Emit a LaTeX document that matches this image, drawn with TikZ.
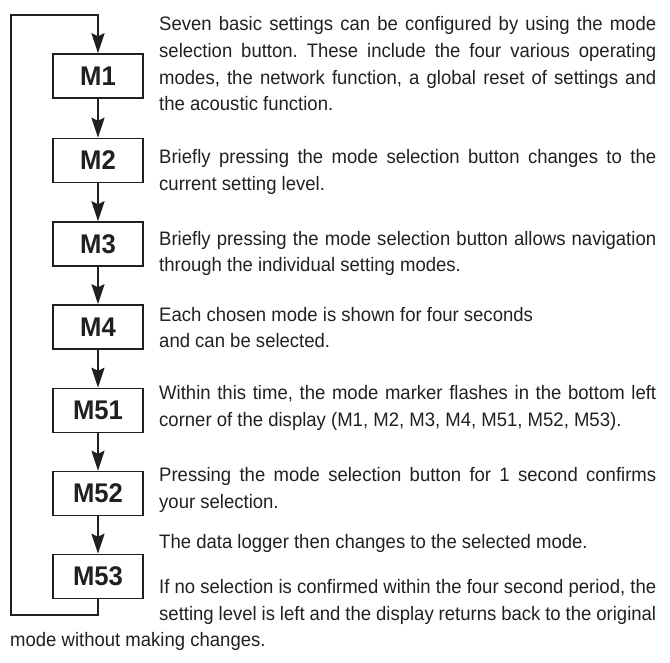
\documentclass[tikz,border=0pt]{standalone}
\usepackage{fontspec}
\setmainfont[FakeStretch=0.95]{Liberation Sans}
\usetikzlibrary{arrows.meta}
\definecolor{ink}{HTML}{231F20}
\tolerance=10000
\hyphenpenalty=10000
\frenchspacing

\begin{document}
\begin{tikzpicture}[x=1pt, y=-1pt]
 \tikzset{
  mode/.style={draw=ink, line width=1.4pt, minimum width=90pt, minimum height=44pt, inner sep=0pt,
               text=ink, font=\fontsize{27}{27}\selectfont\bfseries},
  flow/.style={draw=ink, line width=2.5pt, -{Stealth[length=20pt, width=13pt, inset=3pt]}},
  txt/.style={anchor=base west, inner sep=0pt, text width=497pt, align=justify, text=ink,
              font=\fontsize{19.5}{26.7}\selectfont}
 }
 \useasboundingbox (0,0) rectangle (670,662);

 \foreach \m/\y in {M1/76, M2/160.5, M3/244, M4/327, M51/410.5, M52/493.5, M53/576.5}
  { \node [mode] (\m) at (98,\y) {\m}; }

 \foreach \src/\dst in {M1/M2, M2/M3, M3/M4, M4/M51, M51/M52, M52/M53}
  { \draw [flow] (\src) -- (\dst); }

 % back to the start
 \coordinate (lb) at (11,615);
 \coordinate (lt) at (11,15);
 \draw [flow] (M53.south) -- (M53.south |- lb) -- (lb) -- (lt) -- (lt -| M1.north) -- (M1.north);

 \node [txt] (p1) at (159,30.7) {Seven basic settings can be configured by using the mode\linebreak
  selection button. These include the four various operating\linebreak
  modes, the network function, a global reset of settings and\linebreak
  the acoustic function.};
 \node [txt] (p2) at (159,163.3) {Briefly pressing the mode selection button changes to the\linebreak
  current setting level.};
 \node [txt] (p3) at (159,245) {Briefly pressing the mode selection button allows navigation\linebreak
  through the individual setting modes.};
 \node [txt] (p4) at (159,321) {Each chosen mode is shown for four seconds\newline
  and can be selected.};
 \node [txt] (p5) at (159,399.3) {Within this time, the mode marker flashes in the bottom left\linebreak
  corner of the display (M1, M2, M3, M4, M51, M52, M53).};
 \node [txt] (p6) at (159,481.7) {Pressing the mode selection button for 1 second confirms\linebreak
  your selection.};
 \node [txt] (p7) at (159,548.3) {The data logger then changes to the selected mode.};
 \node [txt, text width=646pt] (p8) at (10,593.3) {\parshape 3 149pt 497pt 149pt 497pt 0pt 646pt
  If no selection is confirmed within the four second period, the\linebreak
  setting level is left and the display returns back to the original\linebreak
  mode without making changes.\par};
\end{tikzpicture}
\end{document}
